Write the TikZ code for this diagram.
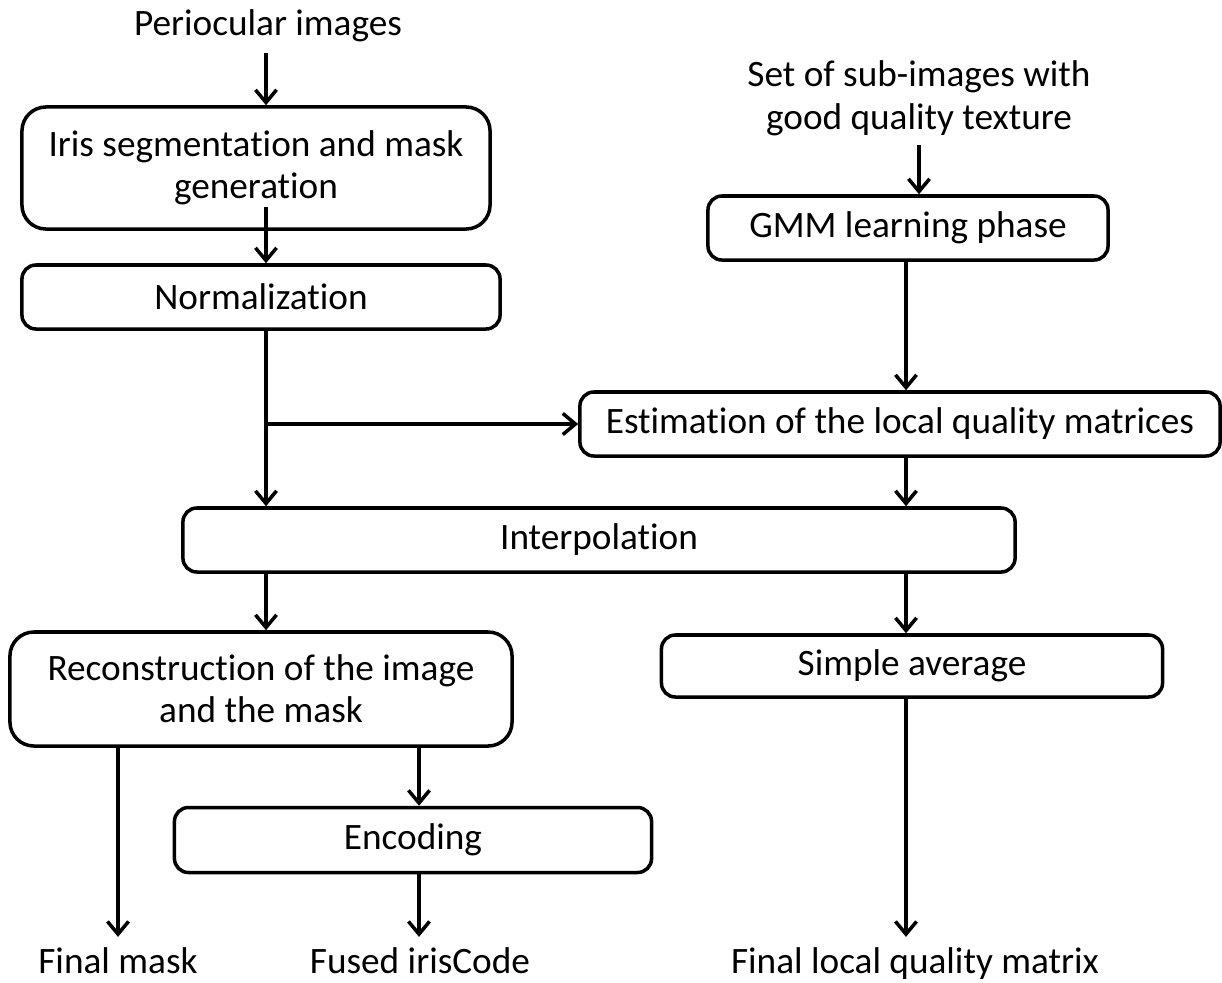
\documentclass[tikz,border=0pt]{standalone}
\usepackage{fontspec}
\setmainfont[Ligatures=NoCommon]{Carlito}
\usetikzlibrary{arrows.meta}

\tikzset{
  procbox/.style={draw, line width=2.5pt, rounded corners=0.35cm, align=center,
    inner sep=0pt, font=\fontsize{26.5}{30}\selectfont},
  bigbox/.style={procbox, rounded corners=0.6cm},
  iotext/.style={inner xsep=0pt, inner ysep=6.5pt, text height=19pt, text depth=6pt,
    font=\fontsize{26.5}{30}\selectfont},
  flow/.style={-{Straight Barb[length=9pt,width=15pt]}, line width=2.5pt},
}

\begin{document}
\begin{tikzpicture}[x=0.025cm, y=-0.025cm]
\useasboundingbox (0,0) rectangle (1222,982);
% Columns that the vertical connectors follow
\coordinate (colA) at (266,0);
\coordinate (colB) at (919,0);
\coordinate (colC) at (906,0);
\coordinate (colD) at (419,0);
% Inputs
\node[iotext, anchor=base] (perio) at (268,35) {Periocular images};
\node[inner sep=0pt, inner ysep=6.5pt, align=center, anchor=south,
  font=\fontsize{26.5}{30}\selectfont] (sub) at (919,145) {Set of sub-images with\\good quality texture};
% Iris branch
\node[bigbox, minimum width=11.7cm, minimum height=3.05cm] (iris) at (256,168) {Iris segmentation and mask\\generation};
\node[procbox, minimum width=11.95cm, minimum height=1.6cm] (norm) at (261,297) {Normalization};
% Quality branch
\node[procbox, minimum width=10cm, minimum height=1.6cm] (gmm) at (908,228) {GMM learning phase};
\node[procbox, minimum width=16cm, minimum height=1.6cm] (est) at (900,424) {Estimation of the local quality matrices};
% Common step
\node[procbox, minimum width=20.8cm, minimum height=1.6cm] (interp) at (599,540) {Interpolation};
% Outputs of the interpolation
\node[bigbox, minimum width=12.55cm, minimum height=2.85cm] (recon) at (261,689) {Reconstruction of the image\\and the mask};
\node[procbox, minimum width=12.525cm, minimum height=1.55cm] (avg) at (912,666) {Simple average};
\node[procbox, minimum width=11.925cm, minimum height=1.625cm] (enc) at (413,840) {Encoding};
% Final results
\node[iotext, anchor=base] (mask) at (118,973) {Final mask};
\node[iotext, anchor=base] (code) at (420,973) {Fused irisCode};
\node[iotext, anchor=base] (quality) at (915,973) {Final local quality matrix};
% Connectors, left column
\draw[flow] (perio.south -| colA) -- (iris.north -| colA);
\draw[flow] ([yshift=0.6cm]iris.south -| colA) -- (norm.north -| colA);
\draw[flow] (norm.south -| colA) -- (interp.north -| colA);
\draw[flow] (est.west -| colA) -- (est.west);
\draw[flow] (interp.south -| colA) -- (recon.north -| colA);
\draw[flow] (recon.south -| mask) -- (mask.north);
\draw[flow] (recon.south -| colD) -- (enc.north -| colD);
\draw[flow] (enc.south -| colD) -- (code.north -| colD);
% Connectors, right column
\draw[flow] (sub.south -| colB) -- (gmm.north -| colB);
\draw[flow] (gmm.south -| colC) -- (est.north -| colC);
\draw[flow] (est.south -| colC) -- (interp.north -| colC);
\draw[flow] (interp.south -| colC) -- (avg.north -| colC);
\draw[flow] (avg.south -| colC) -- (quality.north -| colC);
\end{tikzpicture}
\end{document}
